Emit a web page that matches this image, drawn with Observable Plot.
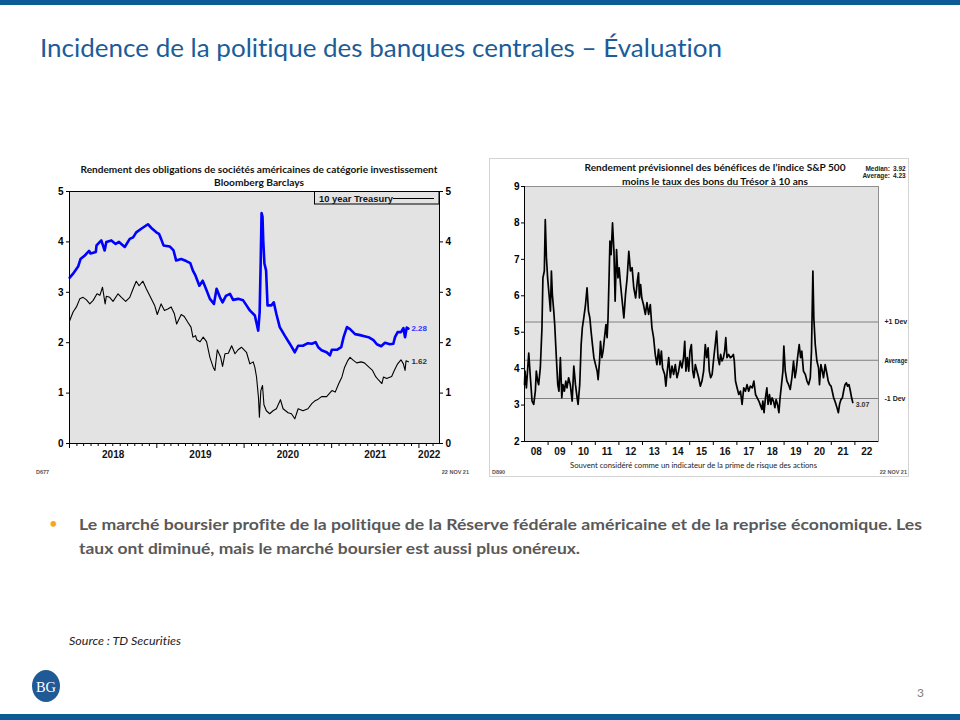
<!DOCTYPE html>
<html><head><meta charset="utf-8">
<script src="https://cdn.jsdelivr.net/npm/d3@7"></script>
<script src="https://cdn.jsdelivr.net/npm/@observablehq/plot@0.6"></script>
<style>
html,body{margin:0;padding:0;background:#fff;}
body{width:960px;height:720px;position:relative;overflow:hidden;font-variant-ligatures:none;}
#leftChart{position:absolute;left:30px;top:180px;width:430px;height:293px;}
#rightChart{position:absolute;left:489px;top:160px;width:440px;height:316px;}
#page{position:absolute;left:0;top:0;z-index:2;pointer-events:none;}
svg text{font-variant-ligatures:none;}
svg.plot, #leftChart svg, #rightChart svg{max-width:none;}
</style></head>
<body>
<div id="leftChart"></div>
<div id="rightChart"></div>
<svg id="page" width="960" height="720"></svg>
<script>
// ---------- Left chart data (Bloomberg Barclays IG corporate yield vs 10-year Treasury) ----------
const corpDates = ["2018-01-02","2018-01-16","2018-02-06","2018-02-16","2018-03-06","2018-03-24","2018-03-30","2018-04-21","2018-04-24","2018-05-14","2018-05-28","2018-06-04","2018-06-25","2018-07-13","2018-07-27","2018-08-20","2018-09-10","2018-09-24","2018-10-07","2018-10-28","2018-11-25","2018-12-13","2018-12-30","2019-01-10","2019-01-19","2019-01-29","2019-02-24","2019-03-12","2019-03-23","2019-04-13","2019-05-04","2019-05-21","2019-06-01","2019-06-12","2019-06-28","2019-07-12","2019-07-28","2019-08-11","2019-08-28","2019-09-08","2019-09-22","2019-10-03","2019-10-17","2019-11-03","2019-11-16","2019-12-07","2019-12-28","2020-01-11","2020-01-25","2020-02-15","2020-02-29","2020-03-06","2020-03-10","2020-03-14","2020-03-18","2020-03-21","2020-03-26","2020-04-02","2020-04-08","2020-04-24","2020-05-04","2020-05-15","2020-05-29","2020-06-19","2020-07-10","2020-07-31","2020-08-14","2020-09-03","2020-09-24","2020-10-10","2020-10-26","2020-11-06","2020-11-20","2020-12-11","2020-12-25","2021-01-02","2021-01-23","2021-02-10","2021-02-20","2021-03-06","2021-03-19","2021-04-09","2021-04-30","2021-05-18","2021-06-04","2021-06-25","2021-07-09","2021-07-27","2021-08-12","2021-09-02","2021-09-16","2021-09-23","2021-10-04","2021-10-18","2021-10-28","2021-11-04","2021-11-11","2021-11-18"];
const corpValues = [3.29,3.37,3.51,3.66,3.73,3.82,3.77,3.80,3.93,4.03,3.83,4.00,4.03,3.96,4.00,3.90,4.06,4.09,4.19,4.26,4.35,4.26,4.19,4.16,4.06,3.93,3.91,3.83,3.63,3.66,3.62,3.58,3.43,3.33,3.13,3.23,3.04,2.87,2.77,3.07,2.90,2.80,2.93,2.97,2.85,2.87,2.84,2.74,2.64,2.54,2.24,2.60,3.50,4.57,4.50,4.03,3.57,3.43,2.74,2.74,2.80,2.57,2.31,2.14,1.98,1.81,1.94,1.94,1.99,1.98,2.01,1.91,1.85,1.81,1.75,1.86,1.86,1.91,2.11,2.31,2.27,2.17,2.15,2.13,2.11,2.05,1.97,1.93,2.00,1.97,1.98,2.11,2.21,2.21,2.29,2.11,2.30,2.28];

const tsyDates = ["2018-01-02","2018-01-16","2018-01-30","2018-02-13","2018-02-27","2018-03-13","2018-03-27","2018-04-10","2018-04-26","2018-05-08","2018-05-19","2018-05-30","2018-06-04","2018-06-18","2018-07-02","2018-07-23","2018-08-06","2018-08-24","2018-09-10","2018-09-24","2018-10-07","2018-10-19","2018-11-04","2018-11-18","2018-12-09","2018-12-23","2019-01-03","2019-01-19","2019-02-02","2019-02-16","2019-03-02","2019-03-15","2019-03-25","2019-04-13","2019-04-26","2019-05-10","2019-05-24","2019-06-01","2019-06-12","2019-06-17","2019-07-01","2019-07-14","2019-07-28","2019-08-11","2019-08-25","2019-09-01","2019-09-11","2019-09-25","2019-10-03","2019-10-13","2019-10-27","2019-11-10","2019-11-24","2019-12-07","2019-12-21","2020-01-11","2020-01-25","2020-02-08","2020-02-15","2020-02-22","2020-03-01","2020-03-05","2020-03-11","2020-03-18","2020-03-24","2020-04-03","2020-04-17","2020-05-01","2020-05-15","2020-06-01","2020-06-12","2020-07-03","2020-07-17","2020-07-31","2020-08-14","2020-09-03","2020-09-24","2020-10-10","2020-10-24","2020-11-06","2020-11-20","2020-12-11","2021-01-02","2021-01-16","2021-01-30","2021-02-13","2021-02-24","2021-03-10","2021-03-19","2021-04-02","2021-04-16","2021-05-04","2021-05-18","2021-06-07","2021-06-21","2021-07-05","2021-07-16","2021-07-30","2021-08-06","2021-08-19","2021-09-09","2021-09-20","2021-10-04","2021-10-18","2021-10-28","2021-11-04","2021-11-08","2021-11-18"];
const tsyValues = [2.44,2.61,2.71,2.87,2.90,2.85,2.77,2.84,2.97,2.94,3.10,2.77,2.92,2.90,2.82,2.97,2.90,2.82,2.90,3.07,3.22,3.13,3.22,3.07,2.87,2.74,2.56,2.77,2.64,2.67,2.71,2.58,2.37,2.56,2.52,2.41,2.31,2.11,2.14,2.06,2.02,2.11,2.02,1.71,1.51,1.45,1.86,1.71,1.53,1.78,1.79,1.94,1.78,1.86,1.91,1.81,1.58,1.62,1.51,1.32,0.92,0.52,1.05,1.15,0.77,0.65,0.59,0.65,0.69,0.87,0.69,0.61,0.59,0.49,0.69,0.65,0.69,0.79,0.85,0.88,0.93,0.93,1.05,1.02,1.18,1.32,1.51,1.65,1.71,1.65,1.60,1.62,1.60,1.51,1.45,1.32,1.26,1.19,1.32,1.29,1.33,1.45,1.58,1.66,1.58,1.45,1.64,1.62];

const leftYTicks = [0,1,2,3,4,5];
const leftYearLabels = ["2018","2019","2020","2021","2022"];
const leftDomain = ["2018-01-01","2022-03-28"];

// ---------- Right chart data (S&P 500 forward earnings yield minus 10-year Treasury) ----------
const spreadYears = [2008.00,2008.02,2008.08,2008.18,2008.25,2008.32,2008.39,2008.46,2008.50,2008.56,2008.60,2008.67,2008.74,2008.78,2008.84,2008.88,2008.93,2008.98,2009.04,2009.10,2009.14,2009.18,2009.24,2009.28,2009.35,2009.41,2009.46,2009.52,2009.58,2009.63,2009.69,2009.75,2009.80,2009.87,2009.94,2010.02,2010.09,2010.16,2010.23,2010.27,2010.34,2010.40,2010.45,2010.51,2010.58,2010.65,2010.71,2010.77,2010.82,2010.88,2010.94,2011.01,2011.08,2011.12,2011.18,2011.22,2011.28,2011.33,2011.39,2011.45,2011.50,2011.54,2011.59,2011.62,2011.67,2011.73,2011.79,2011.84,2011.90,2011.96,2012.01,2012.07,2012.14,2012.21,2012.28,2012.35,2012.42,2012.49,2012.56,2012.63,2012.71,2012.78,2012.83,2012.87,2012.92,2012.97,2013.04,2013.12,2013.19,2013.26,2013.33,2013.40,2013.47,2013.54,2013.61,2013.68,2013.74,2013.80,2013.85,2013.94,2013.99,2014.05,2014.11,2014.18,2014.25,2014.32,2014.39,2014.46,2014.53,2014.60,2014.67,2014.74,2014.79,2014.84,2014.90,2014.96,2015.01,2015.07,2015.13,2015.18,2015.24,2015.31,2015.38,2015.45,2015.52,2015.59,2015.66,2015.72,2015.78,2015.83,2015.89,2015.95,2016.02,2016.09,2016.14,2016.20,2016.26,2016.31,2016.37,2016.43,2016.48,2016.53,2016.58,2016.65,2016.72,2016.80,2016.85,2016.89,2016.94,2017.01,2017.08,2017.15,2017.22,2017.29,2017.36,2017.43,2017.50,2017.57,2017.65,2017.72,2017.79,2017.86,2017.93,2018.01,2018.06,2018.10,2018.15,2018.21,2018.27,2018.32,2018.38,2018.44,2018.49,2018.55,2018.61,2018.66,2018.72,2018.78,2018.83,2018.89,2018.95,2018.99,2019.05,2019.12,2019.19,2019.26,2019.33,2019.40,2019.46,2019.51,2019.57,2019.64,2019.70,2019.75,2019.82,2019.90,2019.97,2020.04,2020.11,2020.16,2020.22,2020.26,2020.32,2020.39,2020.46,2020.50,2020.56,2020.62,2020.67,2020.74,2020.82,2020.87,2020.93,2020.99,2021.04,2021.10,2021.18,2021.24,2021.30,2021.35,2021.41,2021.47,2021.52,2021.58,2021.64,2021.69,2021.75,2021.81,2021.86,2021.91];
const spreadValues = [3.56,3.93,3.47,4.43,3.75,3.11,3.02,3.38,3.93,3.66,3.56,4.02,5.12,6.49,6.68,8.09,7.04,6.49,6.04,5.58,6.68,6.04,5.58,5.21,4.30,3.56,3.38,4.30,3.20,3.56,3.38,3.66,3.47,3.75,3.56,3.11,4.07,3.56,3.20,3.02,3.56,4.66,5.12,5.39,5.72,6.22,5.58,5.39,5.03,4.66,4.30,4.11,3.93,3.70,4.21,4.75,4.30,4.48,4.85,5.21,4.85,5.39,6.68,7.50,7.13,8.00,7.22,5.85,7.27,6.49,6.77,6.31,5.85,5.39,6.04,6.49,7.22,6.68,6.77,6.22,5.94,6.40,6.63,5.94,6.31,5.94,5.76,5.49,5.81,5.49,5.76,5.12,4.85,4.39,4.11,4.53,4.11,4.48,4.02,3.84,3.52,3.93,4.30,3.75,4.07,3.84,4.11,3.75,3.93,4.21,4.02,4.30,4.75,3.93,4.30,3.93,4.48,4.66,3.93,3.75,4.11,3.93,3.75,3.52,3.66,3.93,4.66,4.30,4.57,3.93,3.75,3.84,4.30,4.71,5.03,4.30,4.11,4.39,4.21,4.30,4.48,4.85,4.30,4.39,4.30,4.34,4.39,4.21,3.66,3.47,3.29,3.38,3.02,3.47,3.38,3.56,3.38,3.52,3.47,3.66,3.29,3.20,3.11,2.97,2.88,3.11,2.79,3.20,3.47,3.02,3.29,3.02,3.20,3.11,2.93,3.15,3.02,2.79,3.20,3.56,3.93,4.62,3.93,3.66,3.56,3.43,3.75,4.21,3.75,3.93,4.30,4.66,4.30,4.48,3.93,3.84,3.66,3.56,3.75,4.48,6.68,5.39,4.66,4.21,4.02,3.56,4.11,3.93,3.75,4.11,3.84,3.66,3.56,3.52,3.38,3.20,3.06,2.93,2.79,3.02,3.15,3.20,3.38,3.56,3.61,3.52,3.56,3.38,3.20,3.07];

const rightYTicks = [2,3,4,5,6,7,8,9];
const rightYearLabels = ["08","09","10","11","12","13","14","15","16","17","18","19","20","21","22"];
const rightDomain = [2008, 2023];
const devLabels = ["+1 Dev","Average","-1 Dev"];
const devValues = [5.28, 4.23, 3.18];
const statLabels = ["Median:","Average:"];
const statValues = ["3.92","4.23"];

// ---------- Build left chart ----------
const corp = corpDates.map((d,i)=>({date:new Date(d), value:corpValues[i]}));
const tsy = tsyDates.map((d,i)=>({date:new Date(d), value:tsyValues[i]}));
const lx0 = new Date(leftDomain[0]), lx1 = new Date(leftDomain[1]);
const yearStarts = leftYearLabels.map(y=>new Date(y+"-01-01"));
const monthTicks = d3.utcMonth.range(lx0, lx1).filter(d=>d.getUTCMonth()!==0);
const leftLabelData = leftYearLabels.map(y=>{
  const a = Math.max(+new Date(y+"-01-01"), +lx0), b = Math.min(+new Date((+y+1)+"-01-01"), +lx1);
  return {date:new Date((a+b)/2), label:y};
});
const axisFont = "'Liberation Sans', Arial, sans-serif";

const leftPlot = Plot.plot({
  width:430, height:293, marginLeft:39, marginRight:21, marginTop:11, marginBottom:30,
  style:{fontFamily:axisFont, fontSize:"10px", background:"transparent", color:"#000", maxWidth:"none"},
  x:{type:"utc", domain:[lx0,lx1], label:null},
  y:{domain:[0,5], label:null},
  marks:[
    Plot.frame({fill:"#e3e3e3"}),
    Plot.line(tsy, {x:"date", y:"value", stroke:"#000", strokeWidth:1.1}),
    Plot.line(corp, {x:"date", y:"value", stroke:"#0000ff", strokeWidth:2.6}),
    Plot.frame({stroke:"#000", strokeWidth:1}),
    Plot.axisY({ticks:leftYTicks, anchor:"left", tickSize:3, tickPadding:3, fontWeight:"bold", tickFormat:d=>String(d)}),
    Plot.axisY({ticks:leftYTicks, anchor:"right", tickSize:3, tickPadding:3, fontWeight:"bold", tickFormat:d=>String(d)}),
    Plot.axisX({ticks:yearStarts, tickSize:5, tickFormat:()=>""}),
    Plot.axisX({ticks:monthTicks, tickSize:3, tickFormat:()=>""}),
    Plot.text(leftLabelData, {x:"date", y:()=>0, text:"label", dy:11, fontWeight:"bold", fontSize:10, fill:"#111"}),
    Plot.text([corp[corp.length-1]], {x:"date", y:"value", text:d=>d.value.toFixed(2), dx:3, textAnchor:"start", fill:"#3333ff", fontWeight:"bold", fontSize:8}),
    Plot.text([tsy[tsy.length-1]], {x:"date", y:"value", text:d=>d.value.toFixed(2), dx:3, textAnchor:"start", fill:"#333", fontWeight:"bold", fontSize:8})
  ]
});
document.getElementById("leftChart").appendChild(leftPlot);

// ---------- Build right chart ----------
const spread = spreadYears.map((y,i)=>({year:y, value:spreadValues[i]}));
const devLines = devLabels.map((l,i)=>({label:l, value:devValues[i]}));
const rightLabelData = rightYearLabels.map(l=>({year:2000+parseInt(l,10)+0.5, label:l}));
const rightYearTicks = rightYearLabels.map(l=>2000+parseInt(l,10)).filter(y=>y>rightDomain[0]);

const rightPlot = Plot.plot({
  width:440, height:316, marginLeft:35, marginRight:51, marginTop:26, marginBottom:35,
  style:{fontFamily:axisFont, fontSize:"10px", background:"transparent", color:"#000", maxWidth:"none"},
  x:{domain:rightDomain, label:null},
  y:{domain:[2,9], label:null},
  marks:[
    Plot.frame({fill:"#e3e3e3", stroke:"#8f8f8f"}),
    Plot.ruleY(devLines, {y:"value", stroke:"#808080", strokeWidth:1}),
    Plot.line(spread, {x:"year", y:"value", stroke:"#000", strokeWidth:1.7}),
    Plot.ruleX([rightDomain[0]], {stroke:"#000"}),
    Plot.ruleY([2], {stroke:"#000"}),
    Plot.axisY({ticks:rightYTicks, anchor:"left", tickSize:3, tickPadding:2, fontWeight:"bold", tickFormat:d=>String(d)}),
    Plot.axisX({ticks:rightYearTicks, tickSize:4, tickFormat:()=>""}),
    Plot.text(rightLabelData, {x:"year", y:()=>2, text:"label", dy:10, fontWeight:"bold", fontSize:10, fill:"#111"}),
    Plot.text(devLines, {x:()=>rightDomain[1], y:"value", text:"label", dx:6, textAnchor:"start", fontWeight:"bold", fontSize:7, fill:"#222"}),
    Plot.text([spread[spread.length-1]], {x:"year", y:"value", text:d=>d.value.toFixed(2), dx:3, dy:2, textAnchor:"start", fontWeight:"bold", fontSize:7, fill:"#333"})
  ]
});
document.getElementById("rightChart").appendChild(rightPlot);
// keep the long "Average" label inside the chart's outer frame
d3.select(rightPlot).selectAll("text").filter(function(){ return this.textContent === "Average"; })
  .attr("textLength", 23).attr("lengthAdjust", "spacingAndGlyphs");

// ---------- Page texts & decorations ----------
const page = d3.select("#page");
function txt(s, x, y, o={}){
  const t = page.append("text").attr("x",x).attr("y",y).text(s)
    .attr("font-family", o.family || "Lato, 'Open Sans', sans-serif")
    .attr("font-size", o.size || 10)
    .attr("font-weight", o.weight || "normal")
    .attr("fill", o.fill || "#000")
    .attr("text-anchor", o.anchor || "start");
  if (o.italic) t.attr("font-style","italic");
  if (o.len) t.attr("textLength", o.len).attr("lengthAdjust","spacingAndGlyphs");
  return t;
}
// bars
page.append("rect").attr("x",0).attr("y",0).attr("width",960).attr("height",5).attr("fill","#0b5b97");
page.append("rect").attr("x",0).attr("y",714).attr("width",960).attr("height",6).attr("fill","#0b5b97");
// slide title
txt("Incidence de la politique des banques centrales – Évaluation", 40, 57, {size:25, fill:"#1b5c99", len:682});

// left chart titles / notes
txt("Rendement des obligations de sociétés américaines de catégorie investissement", 259, 173, {size:9.5, weight:"bold", anchor:"middle", len:357, fill:"#111"});
txt("Bloomberg Barclays", 259, 186, {size:9.5, weight:"bold", anchor:"middle", len:90, fill:"#111"});
txt("D677", 36, 474, {size:5.5, weight:"bold", family:axisFont, fill:"#555"});
txt("22 NOV 21", 469, 474, {size:5.5, weight:"bold", family:axisFont, fill:"#555", anchor:"end"});
// legend box
page.append("rect").attr("x",314.5).attr("y",191.5).attr("width",124.5).attr("height",12.5).attr("fill","#e3e3e3").attr("stroke","#000").attr("stroke-width",1);
txt("10 year Treasury", 319, 201.5, {size:9.5, weight:"bold", family:axisFont, fill:"#111", len:74});
page.append("line").attr("x1",393).attr("x2",434).attr("y1",198.5).attr("y2",198.5).attr("stroke","#000").attr("stroke-width",1);

// right chart frame / titles / notes
page.append("rect").attr("x",489.5).attr("y",158.5).attr("width",419).attr("height",318).attr("fill","none").attr("stroke","#d4d4d4");
txt("Rendement prévisionnel des bénéfices de l’indice S&P 500", 715, 171, {size:9.5, weight:"bold", anchor:"middle", len:261, fill:"#111"});
txt("moins le taux des bons du Trésor à 10 ans", 715, 185, {size:9.5, weight:"bold", anchor:"middle", len:186, fill:"#111"});
statLabels.forEach((l,i)=>{
  txt(l, 890, 171 + i*7, {size:6.5, weight:"bold", family:axisFont, anchor:"end", fill:"#222"});
  txt(statValues[i], 893, 171 + i*7, {size:6.5, weight:"bold", family:axisFont, fill:"#222"});
});
txt("Souvent considéré comme un indicateur de la prime de risque des actions", 693.5, 467.5, {size:8, anchor:"middle", len:247, fill:"#222"});
txt("D890", 492, 474, {size:5.5, weight:"bold", family:axisFont, fill:"#555"});
txt("22 NOV 21", 907, 474, {size:5.5, weight:"bold", family:axisFont, fill:"#555", anchor:"end"});

// bullet text
txt("•", 49, 529, {size:15, fill:"#f5a623"});
txt("Le marché boursier profite de la politique de la Réserve fédérale américaine et de la reprise économique. Les", 79, 530, {size:16, weight:"bold", fill:"#595959", len:843});
txt("taux ont diminué, mais le marché boursier est aussi plus onéreux.", 79, 554, {size:16, weight:"bold", fill:"#595959", len:501});

// source
txt("Source : TD Securities", 69, 645, {size:12, italic:true, fill:"#222", len:112});

// logo
page.append("ellipse").attr("cx",46).attr("cy",686).attr("rx",14).attr("ry",16).attr("fill","#1f5a96");
txt("BG", 46, 692, {size:15, family:"'Liberation Serif','DejaVu Serif',serif", anchor:"middle", fill:"#fff", len:20});

// page number
txt("3", 917, 697, {size:12, fill:"#808080"});
</script>
</body></html>
